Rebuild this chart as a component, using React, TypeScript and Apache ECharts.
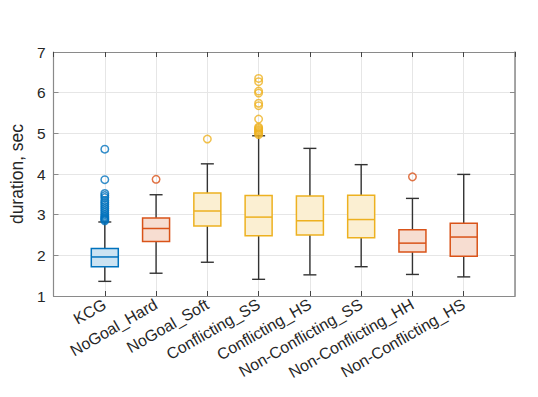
import React, { useEffect, useRef } from "react";
import * as echarts from "echarts";

const categories = [
  "KCG",
  "NoGoal_Hard",
  "NoGoal_Soft",
  "Conflicting_SS",
  "Conflicting_HS",
  "Non-Conflicting_SS",
  "Non-Conflicting_HH",
  "Non-Conflicting_HS",
];

// [lower whisker, Q1, median, Q3, upper whisker]
const boxStats = [
  [1.36, 1.72, 1.96, 2.17, 2.82],
  [1.56, 2.34, 2.66, 2.92, 3.49],
  [1.83, 2.72, 3.09, 3.53, 4.25],
  [1.41, 2.48, 2.94, 3.47, 4.94],
  [1.52, 2.5, 2.85, 3.46, 4.63],
  [1.72, 2.43, 2.88, 3.48, 4.23],
  [1.53, 2.08, 2.3, 2.63, 3.4],
  [1.47, 1.98, 2.45, 2.79, 3.99],
];

const colorGroup = [0, 1, 2, 2, 2, 2, 1, 1];

const outliersKCG = [2.85, 2.88, 2.9, 2.93, 2.96, 3.0, 3.05, 3.1, 3.15, 3.2, 3.25, 3.3, 3.35, 3.42, 3.47, 3.52, 3.86, 4.61];
const outliersNoGoalHard = [3.87];
const outliersNoGoalSoft = [4.86];
const outliersConflictingSS = [4.97, 5.0, 5.03, 5.06, 5.09, 5.12, 5.15, 5.35, 5.68, 5.74, 5.99, 6.04, 6.27, 6.35];
const outliersNonConflictingHH = [3.93];

const outlierSets = [
  { cat: 1, values: outliersKCG },
  { cat: 2, values: outliersNoGoalHard },
  { cat: 3, values: outliersNoGoalSoft },
  { cat: 4, values: outliersConflictingSS },
  { cat: 7, values: outliersNonConflictingHH },
];

const yTicks = [1, 2, 3, 4, 5, 6, 7];

const strokeColors = ["#0072BD", "#D95319", "#EDB120"];
const fillColors = ["#CCE3F2", "#F7DDD1", "#FBEFD2"];

export default function App() {
  const ref = useRef<HTMLDivElement>(null);

  useEffect(() => {
    if (!ref.current) return;
    const chart = echarts.init(ref.current, null, { renderer: "svg" });
    const font = "'Liberation Sans', Arial, Helvetica, sans-serif";
    const axisGrey = "#8a8a8a";
    const textColor = "#262626";

    const boxData = boxStats.map((s, i) => [i + 1, ...s, colorGroup[i]]);

    const outlierData: any[] = [];
    outlierSets.forEach((o) => {
      const c = strokeColors[colorGroup[o.cat - 1]];
      o.values.forEach((v) => {
        outlierData.push({ value: [o.cat, v], itemStyle: { borderColor: c } });
      });
    });

    const option: any = {
      animation: false,
      grid: { left: 44, right: 23, top: 52, bottom: 101, containLabel: false },
      xAxis: [
        {
          type: "value",
          min: 0,
          max: 9,
          interval: 1,
          axisLine: { show: true, onZero: false, lineStyle: { color: axisGrey, width: 1.2 } },
          axisTick: { show: true, inside: true, length: 5, lineStyle: { color: "#444" } },
          splitLine: { show: true, lineStyle: { color: "#e6e6e6", width: 1 } },
          axisLabel: {
            formatter: (v: number) => (v >= 1 && v <= 8 ? categories[v - 1] : ""),
            rotate: 30,
            fontSize: 16,
            fontFamily: font,
            color: textColor,
            margin: 7,
            showMinLabel: false,
            showMaxLabel: false,
          },
        },
        {
          type: "value",
          position: "top",
          min: 0,
          max: 9,
          interval: 1,
          axisLine: { show: true, onZero: false, lineStyle: { color: axisGrey, width: 1.2 } },
          axisTick: { show: true, inside: true, length: 5, lineStyle: { color: "#444" } },
          splitLine: { show: false },
          axisLabel: { show: false },
        },
      ],
      yAxis: [
        {
          type: "value",
          min: 1,
          max: 7,
          interval: 1,
          name: "duration, sec",
          nameLocation: "middle",
          nameGap: 23,
          nameTextStyle: { fontSize: 17.5, fontFamily: font, color: textColor },
          axisLine: { show: true, onZero: false, lineStyle: { color: axisGrey, width: 1.2 } },
          axisTick: { show: true, inside: true, length: 5, lineStyle: { color: axisGrey } },
          splitLine: { show: true, lineStyle: { color: "#e6e6e6", width: 1 } },
          axisLabel: {
            fontSize: 15.5,
            fontFamily: font,
            color: textColor,
            margin: 8,
            formatter: (v: number) => (yTicks.includes(v) ? String(v) : ""),
          },
        },
        {
          type: "value",
          position: "right",
          min: 1,
          max: 7,
          interval: 1,
          axisLine: { show: true, onZero: false, lineStyle: { color: axisGrey, width: 1.5 } },
          axisTick: { show: true, inside: true, length: 5, lineStyle: { color: axisGrey } },
          splitLine: { show: false },
          axisLabel: { show: false },
        },
      ],
      series: [
        {
          type: "custom",
          xAxisIndex: 0,
          yAxisIndex: 0,
          data: boxData,
          renderItem: (params: any, api: any) => {
            const x = api.value(0);
            const lo = api.coord([x, api.value(1)]);
            const q1 = api.coord([x, api.value(2)]);
            const md = api.coord([x, api.value(3)]);
            const q3 = api.coord([x, api.value(4)]);
            const hi = api.coord([x, api.value(5)]);
            const g = api.value(6);
            const cx = lo[0];
            const hw = 13.5;
            const cw = 6.5;
            const wStyle = { stroke: "#333333", lineWidth: 1.4 };
            const sc = strokeColors[g];
            return {
              type: "group",
              children: [
                { type: "line", shape: { x1: cx, y1: lo[1], x2: cx, y2: q1[1] }, style: wStyle },
                { type: "line", shape: { x1: cx, y1: q3[1], x2: cx, y2: hi[1] }, style: wStyle },
                { type: "line", shape: { x1: cx - cw, y1: lo[1], x2: cx + cw, y2: lo[1] }, style: wStyle },
                { type: "line", shape: { x1: cx - cw, y1: hi[1], x2: cx + cw, y2: hi[1] }, style: wStyle },
                {
                  type: "rect",
                  shape: { x: cx - hw, y: q3[1], width: 2 * hw, height: q1[1] - q3[1] },
                  style: { fill: fillColors[g], stroke: sc, lineWidth: 1.5 },
                },
                { type: "line", shape: { x1: cx - hw, y1: md[1], x2: cx + hw, y2: md[1] }, style: { stroke: sc, lineWidth: 1.5 } },
              ],
            };
          },
          z: 3,
        },
        {
          type: "scatter",
          xAxisIndex: 0,
          yAxisIndex: 0,
          symbol: "circle",
          symbolSize: 7.5,
          data: outlierData,
          itemStyle: { color: "rgba(255,255,255,0)", borderWidth: 1.5 },
          z: 4,
        },
      ],
    };

    chart.setOption(option);
    return () => chart.dispose();
  }, []);

  return <div ref={ref} style={{ width: 538, height: 397, position: "absolute", left: 0, top: 0 }} />;
}
